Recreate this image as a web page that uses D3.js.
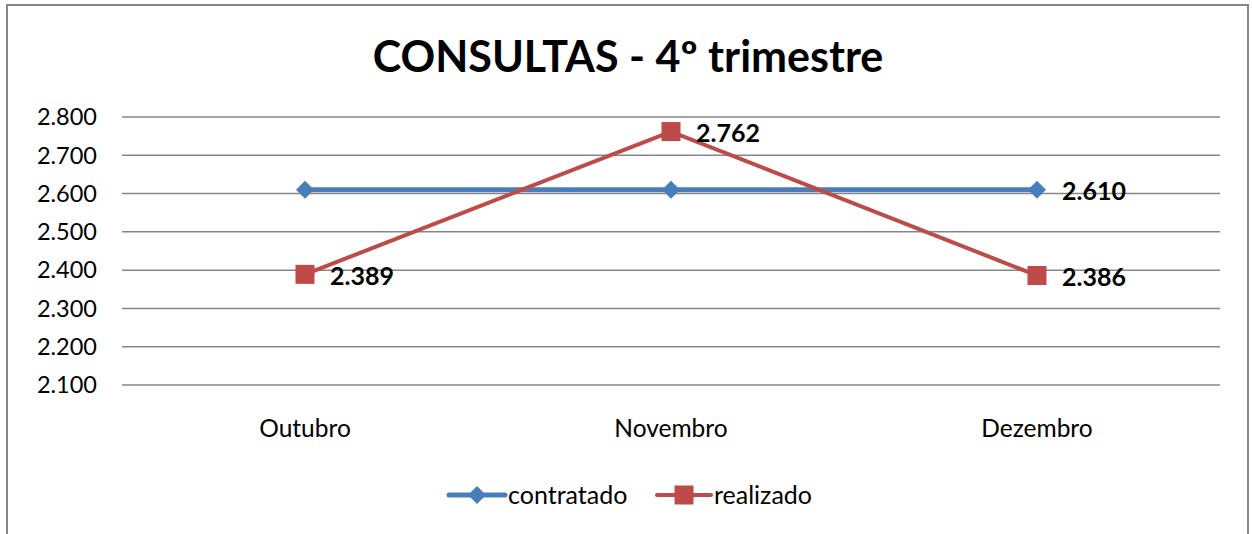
<head>
  <style>
    body { margin: 0; background: #fff; }
    text { font-family: Lato, "Open Sans", sans-serif; }
  </style>
  <script src="https://d3js.org/d3.v7.min.js"></script>
</head>
<body>
  <svg id="svg" width="1252" height="534"></svg>
  <script>
    let months = ["Outubro", "Novembro", "Dezembro"];
    let contratado = [2610, 2610, 2610];
    let realizado = [2389, 2762, 2386];
    let yTicks = [2100, 2200, 2300, 2400, 2500, 2600, 2700, 2800];
    // which points carry a data label
    let contratadoLabels = [false, false, true];
    let realizadoLabels = [true, true, true];

    let svg = d3.select("#svg");
    let fmt = d => d3.format(",")(d).replace(",", ".");

    // outer frame
    svg.append("rect")
      .attr("x", 7).attr("y", 5)
      .attr("width", 1241).attr("height", 540)
      .attr("fill", "none").attr("stroke", "#868686").attr("stroke-width", 2);

    svg.append("text")
      .attr("x", 628).attr("y", 72)
      .attr("text-anchor", "middle")
      .style("font-size", "43px").style("font-weight", "bold")
      .text("CONSULTAS - 4º trimestre");

    let x = d3.scalePoint().domain(months).range([305, 1037]);
    let y = d3.scaleLinear().domain([2100, 2800]).range([385, 117]);

    // gridlines
    svg.append("g").selectAll("line")
      .data(yTicks)
      .enter()
      .append("line")
      .attr("x1", 122).attr("x2", 1220)
      .attr("y1", d => y(d)).attr("y2", d => y(d))
      .attr("stroke", "#868686").attr("stroke-width", 1.5);

    svg.append("g").selectAll("text")
      .data(yTicks)
      .enter()
      .append("text")
      .attr("x", 97).attr("y", d => y(d))
      .attr("dy", "0.35em")
      .attr("text-anchor", "end")
      .style("font-size", "23.5px")
      .text(fmt);

    svg.append("g").selectAll("text")
      .data(months)
      .enter()
      .append("text")
      .attr("x", d => x(d)).attr("y", 428)
      .attr("dy", "0.35em")
      .attr("text-anchor", "middle")
      .style("font-size", "24.5px")
      .text(d => d);

    let line = d3.line().x((d, i) => x(months[i])).y(d => y(d));

    function diamond(g, cx, cy, r, color) {
      g.append("path")
        .attr("d", `M${cx},${cy - r}L${cx + r},${cy}L${cx},${cy + r}L${cx - r},${cy}Z`)
        .attr("fill", color);
    }
    function square(g, cx, cy, s, color) {
      g.append("rect")
        .attr("x", cx - s / 2).attr("y", cy - s / 2)
        .attr("width", s).attr("height", s)
        .attr("fill", color);
    }

    let blue = "#4a7ebb", red = "#be4b48";

    svg.append("path").datum(contratado)
      .attr("d", line).attr("fill", "none")
      .attr("stroke", blue).attr("stroke-width", 5);
    let cg = svg.append("g");
    contratado.forEach((v, i) => diamond(cg, x(months[i]), y(v), 9, blue));

    svg.append("path").datum(realizado)
      .attr("d", line).attr("fill", "none")
      .attr("stroke", red).attr("stroke-width", 4);
    let rg = svg.append("g");
    realizado.forEach((v, i) => square(rg, x(months[i]), y(v), 19, red));

    // data labels
    let labels = [];
    contratado.forEach((v, i) => { if (contratadoLabels[i]) labels.push([i, v]); });
    realizado.forEach((v, i) => { if (realizadoLabels[i]) labels.push([i, v]); });
    svg.append("g").selectAll("text")
      .data(labels)
      .enter()
      .append("text")
      .attr("x", d => x(months[d[0]]) + 25)
      .attr("y", d => y(d[1]) + 2)
      .attr("dy", "0.35em")
      .style("font-size", "25px").style("font-weight", "bold")
      .text(d => fmt(d[1]));

    // legend
    let lg = svg.append("g");
    lg.append("line").attr("x1", 449).attr("x2", 505).attr("y1", 495).attr("y2", 495)
      .attr("stroke", blue).attr("stroke-width", 5).attr("stroke-linecap", "round");
    diamond(lg, 477, 495, 9, blue);
    lg.append("text").attr("x", 508).attr("y", 495).attr("dy", "0.35em")
      .style("font-size", "25px").text("contratado");
    lg.append("line").attr("x1", 657).attr("x2", 711).attr("y1", 495).attr("y2", 495)
      .attr("stroke", red).attr("stroke-width", 4).attr("stroke-linecap", "round");
    square(lg, 684, 495, 19, red);
    lg.append("text").attr("x", 714).attr("y", 495).attr("dy", "0.35em")
      .style("font-size", "25px").text("realizado");
  </script>
</body>
